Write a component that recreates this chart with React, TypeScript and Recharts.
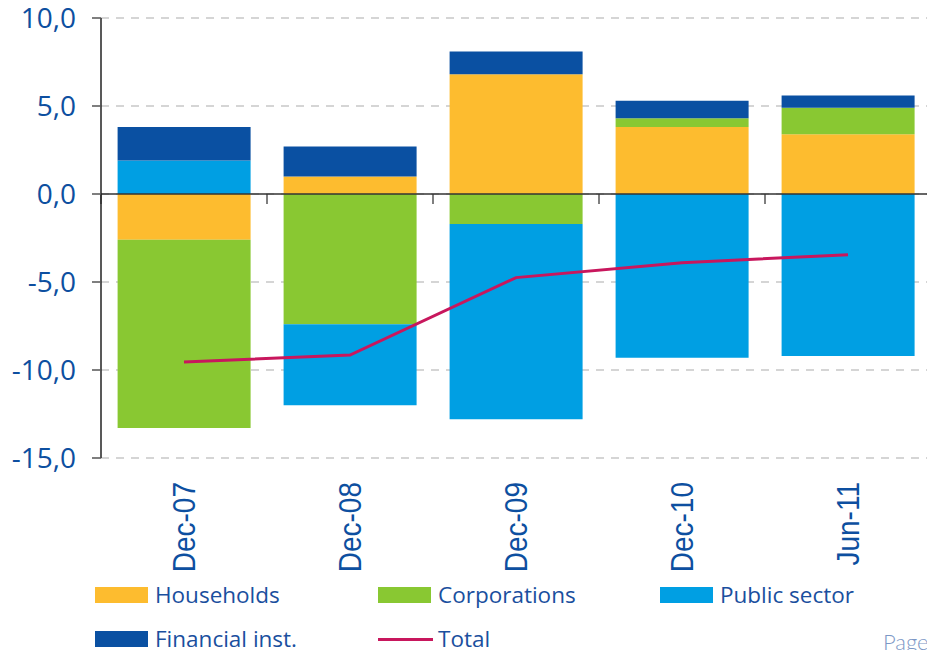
import React from 'react';
import { ComposedChart, Bar, Line, XAxis, YAxis, CartesianGrid, ReferenceLine, Legend } from 'recharts';

const categories = ['Dec-07', 'Dec-08', 'Dec-09', 'Dec-10', 'Jun-11'];
const households = [-2.6, 1.0, 6.8, 3.8, 3.4];
const corporations = [-10.7, -7.4, -1.7, 0.5, 1.5];
const publicSector = [1.9, -4.6, -11.1, -9.3, -9.2];
const financialInst = [1.9, 1.7, 1.3, 1.0, 0.7];
const total = [-9.55, -9.15, -4.75, -3.9, -3.45];
const yTicks = [-15, -10, -5, 0, 5, 10];
const seriesNames = ['Households', 'Corporations', 'Public sector', 'Financial inst.', 'Total'];

const data = categories.map((c, i) => ({
  name: c,
  households: households[i],
  corporations: corporations[i],
  publicSector: publicSector[i],
  financialInst: financialInst[i],
  total: total[i],
}));

const COLORS = {
  households: '#FDBC2F',
  corporations: '#89C832',
  publicSector: '#009FE3',
  financialInst: '#0A50A2',
  total: '#C8175D',
};

const TEXT_BLUE = '#0D4FA0';

const fmt = (v: number) => v.toFixed(1).replace('.', ',');

const XTick = (props: any) => {
  const { x, y, payload } = props;
  return (
    <g transform={`translate(${x},${y}) rotate(-90) scale(1,1.12)`}>
      <text x={0} y={0} dy="0.36em" textAnchor="end" fill={TEXT_BLUE}
        style={{ fontFamily: '"Liberation Sans", Arial, sans-serif', fontSize: 28 }}>
        {payload.value}
      </text>
    </g>
  );
};

const ZeroLine = (props: any) => {
  const { x1, y1, x2, y2 } = props;
  const n = categories.length;
  const ticks = [];
  for (let i = 0; i <= n; i++) {
    const tx = x1 + ((x2 - x1) * i) / n;
    ticks.push(<line key={i} x1={tx} x2={tx} y1={y1} y2={y1 + 10} stroke="#555" strokeWidth={1.5} />);
  }
  return (
    <g>
      {ticks}
      <line x1={x1} y1={y1} x2={x2} y2={y2} stroke="#333" strokeWidth={1.6} />
    </g>
  );
};

const colX = [95, 378, 660];
const rowY = [587, 631];

const LegendContent = (props: any) => {
  const payload = [...(props.payload || [])].sort(
    (a: any, b: any) => seriesNames.indexOf(a.value) - seriesNames.indexOf(b.value)
  );
  return (
    <div style={{ position: 'relative', width: 927, height: 70 }}>
      {payload.map((p: any, i: number) => {
        const col = i % 3;
        const row = Math.floor(i / 3);
        const isLine = p.type === 'line';
        return (
          <div key={i} style={{
            position: 'absolute', left: colX[col], top: rowY[row] - rowY[0],
            height: 16, display: 'flex', alignItems: 'center', whiteSpace: 'nowrap',
          }}>
            {isLine ? (
              <div style={{ width: 55, height: 3, background: p.color }} />
            ) : (
              <div style={{ width: 53, height: 16, background: p.color }} />
            )}
            <span style={{
              marginLeft: isLine ? 5 : 7, color: '#1A4F9E',
              fontFamily: '"Open Sans", sans-serif', fontSize: 22.5, lineHeight: '16px',
            }}>{p.value}</span>
          </div>
        );
      })}
    </div>
  );
};

export default function App() {
  return (
    <div style={{ position: 'absolute', left: 0, top: 0, width: 927, height: 650, overflow: 'hidden', background: '#fff' }}>
      <ComposedChart
        width={931}
        height={650}
        data={data}
        stackOffset="sign"
        barCategoryGap="10%"
        margin={{ top: 18, right: 0, bottom: 0, left: 0 }}
      >
        <CartesianGrid horizontal vertical={false} stroke="#C8C8C8" strokeDasharray="8 7" strokeWidth={1.3} />
        <XAxis
          dataKey="name"
          height={192}
          axisLine={false}
          tickLine={false}
          interval={0}
          tick={<XTick />}
          tickMargin={18}
        />
        <YAxis
          width={101}
          domain={[-15, 10]}
          ticks={yTicks}
          interval={0}
          tickFormatter={fmt}
          axisLine={{ stroke: '#222', strokeWidth: 1.5 }}
          tickLine={{ stroke: '#555', strokeWidth: 1.5 }}
          tickSize={9}
          tickMargin={16}
          tick={{ fill: TEXT_BLUE, fontSize: 28, fontFamily: '"Open Sans", sans-serif' }}
        />
        <Bar dataKey="households" name="Households" stackId="a" fill={COLORS.households} isAnimationActive={false} legendType="rect" />
        <Bar dataKey="corporations" name="Corporations" stackId="a" fill={COLORS.corporations} isAnimationActive={false} legendType="rect" />
        <Bar dataKey="publicSector" name="Public sector" stackId="a" fill={COLORS.publicSector} isAnimationActive={false} legendType="rect" />
        <Bar dataKey="financialInst" name="Financial inst." stackId="a" fill={COLORS.financialInst} isAnimationActive={false} legendType="rect" />
        <ReferenceLine y={0} shape={<ZeroLine />} />
        <Line dataKey="total" name="Total" type="linear" stroke={COLORS.total} strokeWidth={3} dot={false} isAnimationActive={false} legendType="line" />
        <Legend
          layout="horizontal"
          verticalAlign="middle"
          align="center"
          content={<LegendContent />}
          wrapperStyle={{ position: 'absolute', left: 0, top: 587, width: 927, height: 70, margin: 0 }}
        />
      </ComposedChart>
      <span style={{
        position: 'absolute', left: 883, top: 628, color: '#7C97C6',
        fontFamily: 'Lato, "Open Sans", sans-serif', fontSize: 22, fontWeight: 300,
      }}>Page</span>
    </div>
  );
}
